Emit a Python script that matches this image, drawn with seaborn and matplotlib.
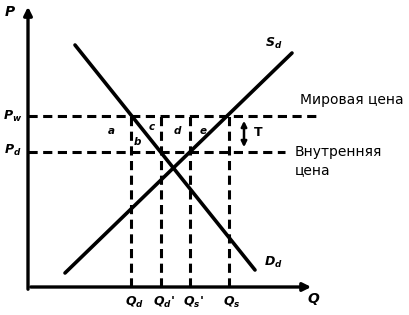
import matplotlib
matplotlib.use("Agg")
import matplotlib.pyplot as plt
import seaborn as sns
import pandas as pd

# ---- data (economic units) ----
demand_q = [4.7, 22.7]
demand_p = [24.2, 1.7]
supply_q = [3.7, 26.4]
supply_p = [1.4, 23.4]
p_world = 17.1
p_dom = 13.5
q_marks = [10.3, 13.3, 16.2, 20.1]
q_labels = [r"$Q_d$", r"$Q_d$'", r"$Q_s$'", r"$Q_s$"]
area_letters = ["a", "b", "c", "d", "e"]
area_q = [8.3, 10.9, 12.4, 14.9, 17.5]
area_p = [15.6, 14.5, 16.0, 15.6, 15.6]

sns.set_theme(style="white")
plt.rcParams['font.family'] = ['DejaVu Sans']
plt.rcParams['text.color'] = 'black'
plt.rcParams['mathtext.fontset'] = 'custom'
plt.rcParams['mathtext.it'] = 'DejaVu Sans:bold:italic'
plt.rcParams['mathtext.rm'] = 'DejaVu Sans:bold'

fig = plt.figure(figsize=(4.1, 3.15), dpi=100)
ax = fig.add_axes([0, 0, 1, 1])
ax.set_xlim(-2.8, 38.2)
ax.set_ylim(-2.8, 28.7)
ax.axis("off")

df_d = pd.DataFrame({"Q": demand_q, "P": demand_p})
df_s = pd.DataFrame({"Q": supply_q, "P": supply_p})
sns.lineplot(data=df_d, x="Q", y="P", ax=ax, color="black", lw=2.6, sort=False)
sns.lineplot(data=df_s, x="Q", y="P", ax=ax, color="black", lw=2.6, sort=False)

# axes with arrows
ax.annotate("", xy=(0, 28.3), xytext=(0, -0.5),
            arrowprops=dict(arrowstyle="-|>", color="black", lw=2.4, mutation_scale=12))
ax.annotate("", xy=(28.6, 0), xytext=(0, 0),
            arrowprops=dict(arrowstyle="-|>", color="black", lw=2.4, mutation_scale=12))

dash = dict(color="black", lw=2.2, dashes=(3.0, 1.8))
ax.plot([0, 28.9], [p_world, p_world], **dash)
ax.plot([0, 25.7], [p_dom, p_dom], **dash)
for q in q_marks:
    ax.plot([q, q], [0, p_world], **dash)

# tariff arrow
ax.annotate("", xy=(21.6, p_world - 0.2), xytext=(21.6, p_dom + 0.2),
            arrowprops=dict(arrowstyle="<|-|>", color="black", lw=1.8, mutation_scale=8))
ax.text(23.0, 15.4, "T", fontsize=9, fontweight="bold", ha="center", va="center")

for t, q, p in zip(area_letters, area_q, area_p):
    ax.text(q, p, t, fontsize=7.5, fontweight="bold", style="italic", ha="center", va="center")

for q, lab in zip(q_marks, q_labels):
    ax.text(q + 0.3, -1.5, lab, fontsize=9, fontweight="bold", ha="center", va="center")

ax.text(-1.8, 27.5, r"$P$", fontsize=10, ha="center", va="center")
ax.text(-1.5, p_world, r"$P_w$", fontsize=9, ha="center", va="center")
ax.text(-1.5, p_dom + 0.2, r"$P_d$", fontsize=9, ha="center", va="center")
ax.text(28.6, -1.2, r"$Q$", fontsize=10, ha="center", va="center")
ax.text(24.6, 24.4, r"$S_d$", fontsize=9, ha="center", va="center")
ax.text(24.5, 2.5, r"$D_d$", fontsize=9, ha="center", va="center")

ax.text(27.2, 18.7, "Мировая цена", fontsize=10, ha="left", va="center")
ax.text(26.7, 13.5, "Внутренняя", fontsize=10, ha="left", va="center")
ax.text(26.7, 11.7, "цена", fontsize=10, ha="left", va="center")

fig.savefig("out.png", dpi=100, facecolor="white")
